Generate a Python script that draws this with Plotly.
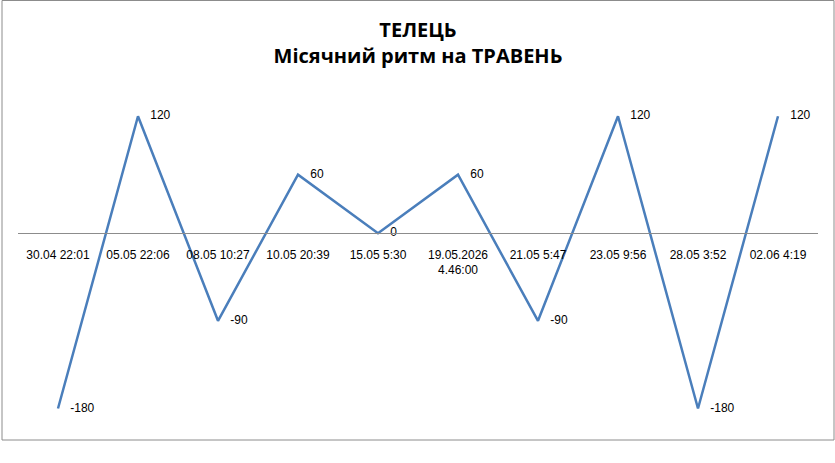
import plotly.graph_objects as go

# moon rhythm data for May
dates = ['30.04 22:01', '05.05 22:06', '08.05 10:27', '10.05 20:39', '15.05 5:30',
         '19.05.2026<br>4.46:00', '21.05 5:47', '23.05 9:56', '28.05 3:52', '02.06 4:19']
values = [-180, 120, -90, 60, 0, 60, -90, 120, -180, 120]

line_color = '#4A7EBB'
font_name = 'Liberation Sans'

fig = go.Figure()
# invisible markers only push the data labels away from the points
fig.add_trace(go.Scatter(x=list(range(len(dates))), y=values, mode='lines+markers+text',
                         text=[str(v) for v in values], textposition='middle right',
                         textfont=dict(family=font_name, size=12, color='#000000'),
                         line=dict(color=line_color, width=2.5),
                         marker=dict(size=18, opacity=0, color=line_color),
                         hoverinfo='skip', showlegend=False))

y_min, y_max = -200, 150

fig.update_layout(
    width=835, height=463,
    margin=dict(l=18, r=17, t=87, b=35),
    paper_bgcolor='white', plot_bgcolor='white',
    title=dict(text='<b>ТЕЛЕЦЬ<br>Місячний ритм на ТРАВЕНЬ</b>',
               x=0.5, xanchor='center', xref='paper',
               y=1 - 37 / 463, yanchor='middle',
               font=dict(family='Open Sans', size=20, color='#000000')),
    xaxis=dict(tickmode='array', tickvals=list(range(len(dates))), ticktext=dates,
               range=[-0.5, len(dates) - 0.5], anchor='free',
               position=(0 - y_min) / (y_max - y_min),
               showline=True, linecolor='#8C8C8C', linewidth=1,
               showgrid=False, zeroline=False, ticks='', ticklabelstandoff=10,
               tickfont=dict(family=font_name, size=12, color='#000000')),
    yaxis=dict(range=[y_min, y_max], visible=False, showgrid=False, zeroline=False),
)

# chart border
plot_h = 463 - 87 - 35
fig.add_shape(type='rect', xref='paper', yref='paper',
              x0=(2 - 18) / 800, x1=(834 - 18) / 800,
              y0=(428 - 440) / plot_h, y1=(428 - 0.5) / plot_h,
              line=dict(color='#8C8C8C', width=1), fillcolor='rgba(0,0,0,0)')

# drop the default page margin so the figure sits at the window corner
fig.write_html("out.html", config={'displayModeBar': False},
               post_script="document.body.style.margin='0';")
